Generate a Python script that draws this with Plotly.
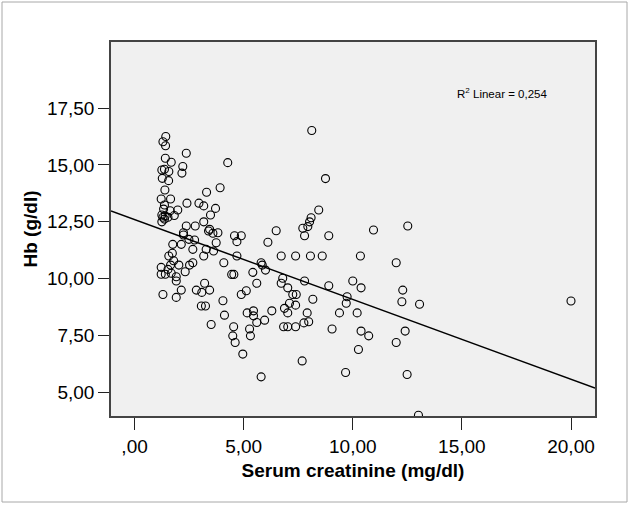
import plotly.graph_objects as go

# ---- data ----
creatinine = [
    1.43, 1.30, 1.42, 2.37, 1.41, 1.68, 2.21, 1.25, 1.37, 1.57, 2.17, 1.27, 1.56, 1.39, 3.30, 3.92,
    1.22, 1.65, 1.37, 2.40, 2.95, 3.17, 1.33, 1.63, 1.98, 3.71, 3.48, 1.25, 1.30, 1.37, 1.40, 1.53,
    1.82, 1.25, 2.37, 2.78, 3.17, 3.44, 2.24, 2.24, 3.39, 3.59, 3.82, 2.49, 2.75, 3.74, 1.75, 2.14,
    2.67, 3.28, 3.62, 3.17, 1.73, 1.57, 1.79, 2.03, 1.65, 2.52, 2.67, 1.22, 1.53, 1.22, 1.41, 1.68,
    1.91, 2.32, 1.91, 3.21, 2.14, 2.83, 3.08, 3.44, 1.30, 1.91, 3.06, 3.25, 3.51,
    4.27, 4.09, 4.69, 5.80, 5.85, 6.00, 6.72, 7.38, 4.45, 4.55, 5.42, 6.72, 6.79, 5.60, 4.05, 4.89,
    5.12, 7.02, 7.25, 7.41, 4.12, 5.16, 5.45, 5.45, 6.29, 6.87, 7.02, 7.10, 7.38, 5.96, 5.60, 4.54,
    5.27, 6.83, 7.02, 7.38, 4.50, 5.31, 4.61, 4.96, 5.80, 4.58, 4.89, 4.69, 6.49, 6.11, 8.12, 8.75,
    8.44, 8.09, 8.02, 7.94, 7.71, 7.79, 8.90, 8.06, 8.60, 7.79, 8.90, 8.17, 7.91, 7.76, 7.98, 7.68,
    10.95, 12.52, 10.35, 11.99, 10.00, 10.38, 9.74, 9.70, 9.39, 10.20, 12.29, 12.25, 13.06, 20.00,
    9.05, 10.38, 10.73, 12.40, 11.99, 10.26, 9.67, 12.49, 13.01,
]
hb = [
    16.25, 16.02, 15.84, 15.51, 15.29, 15.12, 14.93, 14.78, 14.81, 14.71, 14.64, 14.41, 14.31, 13.90, 13.80, 14.00,
    13.50, 13.50, 13.24, 13.32, 13.32, 13.20, 13.06, 12.99, 13.02, 13.09, 12.80, 12.80, 12.70, 12.62, 12.76, 12.70,
    12.78, 12.50, 12.32, 12.32, 12.50, 12.17, 12.02, 11.92, 12.10, 12.00, 12.02, 11.73, 11.70, 11.58, 11.51, 11.51,
    11.29, 11.29, 11.22, 11.00, 11.12, 11.00, 10.79, 10.60, 10.60, 10.60, 10.70, 10.50, 10.41, 10.20, 10.20, 10.24,
    10.09, 10.31, 9.90, 9.80, 9.50, 9.50, 9.40, 9.50, 9.31, 9.18, 8.80, 8.80, 7.99,
    15.10, 10.70, 11.00, 10.70, 10.60, 10.38, 11.00, 11.00, 10.19, 10.19, 10.28, 9.80, 10.02, 9.80, 9.03, 9.31,
    9.47, 9.60, 9.31, 9.31, 8.40, 8.50, 8.59, 8.37, 8.59, 8.70, 8.50, 8.92, 8.84, 8.18, 8.08, 7.89,
    7.79, 7.89, 7.89, 7.89, 7.49, 7.49, 7.20, 6.69, 5.69, 11.89, 11.89, 11.63, 12.11, 11.60, 16.51, 14.40,
    13.02, 12.68, 12.50, 12.29, 12.22, 11.89, 11.89, 11.00, 11.00, 9.90, 9.69, 9.10, 8.50, 8.06, 8.11, 6.39,
    12.14, 12.32, 11.00, 10.70, 9.90, 9.60, 9.21, 8.92, 8.50, 8.50, 9.50, 8.99, 8.88, 9.02,
    7.79, 7.70, 7.49, 7.70, 7.20, 6.89, 5.88, 5.79, 4.00,
]

fit_intercept = 12.60
fit_slope = -0.351
r2_text = "R<sup>2</sup> Linear = 0,254"

x_tickvals = [0, 5, 10, 15, 20]
x_ticktext = [",00", "5,00", "10,00", "15,00", "20,00"]
y_tickvals = [5, 7.5, 10, 12.5, 15, 17.5]
y_ticktext = ["5,00", "7,50", "10,00", "12,50", "15,00", "17,50"]

# ---- layout geometry ----
W, H = 634, 506
L, R, T, B = 111, 39, 42, 90
x_range = [-1.08, 21.1]
y_range = [3.97, 20.4]

fit_x = x_range
fit_y = [fit_intercept + fit_slope * v for v in fit_x]

fig = go.Figure()
fig.add_trace(go.Scatter(
    x=fit_x, y=fit_y, mode="lines",
    line=dict(color="black", width=1.5), hoverinfo="skip", showlegend=False,
))
fig.add_trace(go.Scatter(
    x=creatinine, y=hb, mode="markers",
    marker=dict(symbol="circle-open", size=8, color="black", line=dict(width=1.1)),
    showlegend=False,
))

pw, ph = W - L - R, H - T - B
def px2paper_x(px):
    return (px - L) / pw
def px2paper_y(py):
    return (H - B - py) / ph

fig.add_shape(type="rect", xref="paper", yref="paper",
              x0=px2paper_x(2), x1=px2paper_x(627), y0=px2paper_y(502), y1=px2paper_y(2),
              line=dict(color="#a8a8a8", width=1), layer="below")

fig.add_annotation(text=r2_text, xref="paper", yref="paper",
                   x=px2paper_x(502), y=px2paper_y(93), xanchor="center", yanchor="middle",
                   showarrow=False,
                   font=dict(family="Liberation Sans, Arial", size=11.5, color="black"))

fig.update_layout(
    width=W, height=H,
    margin=dict(l=L, r=R, t=T, b=B),
    paper_bgcolor="white", plot_bgcolor="#F0F0F0",
    font=dict(family="Liberation Sans, Arial", color="black"),
    xaxis=dict(
        range=x_range, tickvals=x_tickvals, ticktext=x_ticktext,
        ticks="outside", ticklen=12, tickwidth=1.2, tickcolor="#222",
        showline=True, linecolor="#444", linewidth=1.5, mirror=True,
        showgrid=False, zeroline=False,
        tickfont=dict(size=19, color="black"),
        title=dict(text="<b>Serum creatinine (mg/dl)</b>", font=dict(size=19), standoff=8),
    ),
    yaxis=dict(
        range=y_range, tickvals=y_tickvals, ticktext=y_ticktext,
        ticks="outside", ticklen=11, tickwidth=1.2, tickcolor="#222",
        showline=True, linecolor="#444", linewidth=1.5, mirror=True,
        showgrid=False, zeroline=False,
        tickfont=dict(size=19, color="black"),
        title=dict(text="<b>Hb (g/dl)</b>", font=dict(size=19), standoff=4),
    ),
)

fig.write_html("out.html", config={"displayModeBar": False},
               post_script="document.body.style.margin='0';")
